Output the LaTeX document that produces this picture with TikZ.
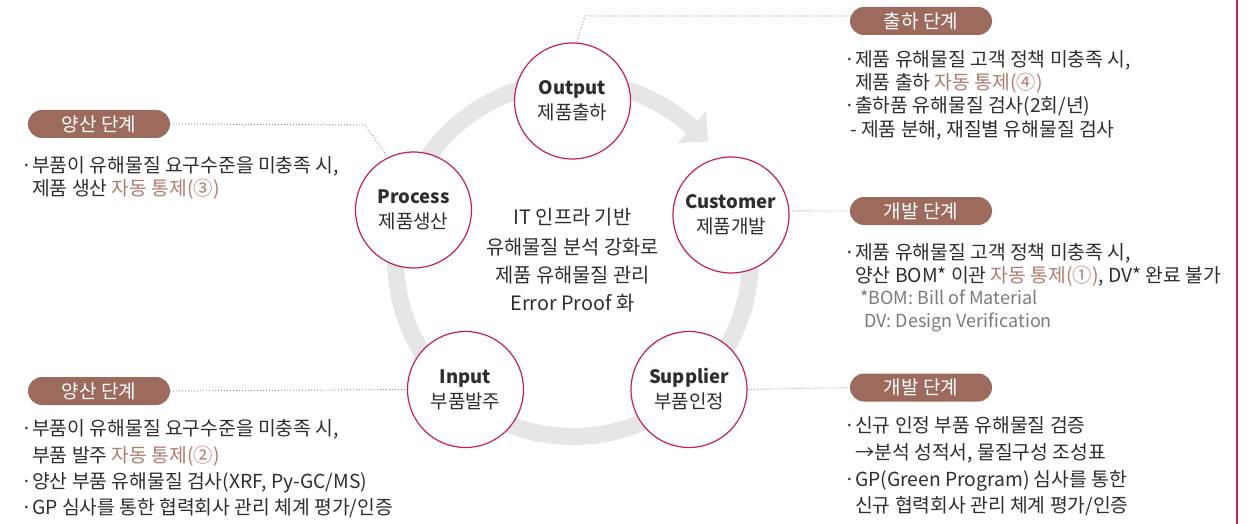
\documentclass[tikz,border=0pt]{standalone}
\usepackage{fontspec}
\setmainfont{Noto Sans CJK KR}
\usetikzlibrary{calc}
\definecolor{ringc}{HTML}{E6E6E6}
\definecolor{crim}{HTML}{C8214E}
\definecolor{pillc}{HTML}{9D6A5E}
\definecolor{hl}{HTML}{B27A6D}
\definecolor{txt}{HTML}{2E2E2E}
\definecolor{gtxt}{HTML}{7A7A7A}
\definecolor{dotc}{HTML}{8C8C8C}
\newcommand{\bul}{\makebox[10pt][c]{·}}
\begin{document}
\begin{tikzpicture}[x=1pt,y=1pt,
  stage/.style={circle, draw=crim, line width=1.2pt, fill=white, minimum size=116pt, inner sep=0pt, align=center, text=txt, font=\fontsize{19}{25}\selectfont},
  pill/.style={rounded corners=14pt, fill=pillc, minimum width=142pt, minimum height=28pt, inner sep=0pt, text=white, font=\fontsize{19}{20}\selectfont},
  ln/.style={anchor=base west, inner sep=0pt, text=txt, font=\fontsize{19.3}{20}\selectfont},
  gl/.style={ln, text=gtxt, font=\fontsize{18}{20}\selectfont},
  cl/.style={anchor=base, inner sep=0pt, text=txt, font=\fontsize{19.8}{20}\selectfont},
  dotline/.style={draw=dotc, line width=0.9pt, dash pattern=on 0.9pt off 2.1pt},
  ringline/.style={draw=ringc, line width=17pt}
]
\useasboundingbox (0,0) rectangle (1255,-524);
% ring with arrow
\coordinate (rc) at (573,-259);
\draw[ringline] ($(rc)+(48:177.5)$) arc[start angle=48, end angle=380, radius=177.5];
\fill[ringc] ($(rc)+(48:199.1)$) -- ($(rc)+(48:155.9)$) -- ($(rc)+(48:177.5)+(-42:21.6)$) -- cycle;
% right border line
\draw[crim, line width=1.2pt] (1237,0) -- (1237,-524);
% pills
\node[pill] (pA) at (921,-21) {출하 단계};
\node[pill] (pB) at (99,-124) {양산 단계};
\node[pill] (pC) at (921,-211) {개발 단계};
\node[pill] (pD) at (99,-391) {양산 단계};
\node[pill] (pE) at (921,-387.5) {개발 단계};
% stage circles
\node[stage] (out) at (572.5,-101) {\textbf{\fontsize{18.5}{25}\selectfont Output}\\제품출하};
\node[stage] (proc) at (413.5,-210) {\textbf{\fontsize{18.5}{25}\selectfont Process}\\제품생산};
\node[stage] (cust) at (731,-215) {\textbf{\fontsize{18.5}{25}\selectfont Customer}\\제품개발};
\node[stage] (inp) at (465.5,-389.5) {\textbf{\fontsize{18.5}{25}\selectfont Input}\\부품발주};
\node[stage] (sup) at (689,-389.5) {\textbf{\fontsize{18.5}{25}\selectfont Supplier}\\부품인정};
% dotted connectors
\coordinate (bA) at (585,-16);
\draw[dotline] ([yshift=5pt]pA.west) -- (bA) -- (out.86);
\coordinate (bB) at (365,-125);
\draw[dotline] (pB.east) -- (bB) -- (proc.116);
\draw[dotline] (cust.4) -- (pC.west);
\draw[dotline] (pD.east) -- (inp.west);
\draw[dotline] (sup.east) -- (pE.west);
% center text
\node[cl] (c1) at (572.5,-224) {IT 인프라 기반};
\node[cl] (c2) at (572.5,-254) {유해물질 분석 강화로};
\node[cl] (c3) at (572.5,-282) {제품 유해물질 관리};
\node[cl] (c4) at (572.5,-310) {Error Proof 화};
% top right
\node[ln] (a1) at (845,-67) {\bul 제품 유해물질 고객 정책 미충족 시,};
\node[ln] (a2) at (855,-90) {제품 출하 {\color{hl}자동 통제(④)}};
\node[ln] (a3) at (845,-113) {\bul 출하품 유해물질 검사(2회/년)};
\node[ln] (a4) at (850,-136) {- 제품 분해, 재질별 유해물질 검사};
% top left
\node[ln] (b1) at (22,-172) {\bul 부품이 유해물질 요구수준을 미충족 시,};
\node[ln] (b2) at (32,-195) {제품 생산 {\color{hl}자동 통제(③)}};
% customer
\node[ln] (d1) at (845,-259) {\bul 제품 유해물질 고객 정책 미충족 시,};
\node[ln] (d2) at (855,-282) {양산 BOM* 이관 {\color{hl}자동 통제(①)}, DV* 완료 불가};
\node[gl] (d3) at (860,-304) {*BOM: Bill of Material};
\node[gl] (d4) at (864,-327) {DV: Design Verification};
% bottom left
\node[ln] (e1) at (22,-435) {\bul 부품이 유해물질 요구수준을 미충족 시,};
\node[ln] (e2) at (32,-462) {부품 발주 {\color{hl}자동 통제(②)}};
\node[ln] (e3) at (22,-488) {\bul 양산 부품 유해물질 검사(XRF, Py-GC/MS)};
\node[ln] (e4) at (22,-514) {\bul GP 심사를 통한 협력회사 관리 체계 평가/인증};
% bottom right
\node[ln] (f1) at (845,-432) {\bul 신규 인정 부품 유해물질 검증};
\node[ln] (f2) at (855,-459) {→분석 성적서, 물질구성 조성표};
\node[ln] (f3) at (845,-486) {\bul GP(Green Program) 심사를 통한};
\node[ln] (f4) at (855,-512) {신규 협력회사 관리 체계 평가/인증};
\end{tikzpicture}
\end{document}
